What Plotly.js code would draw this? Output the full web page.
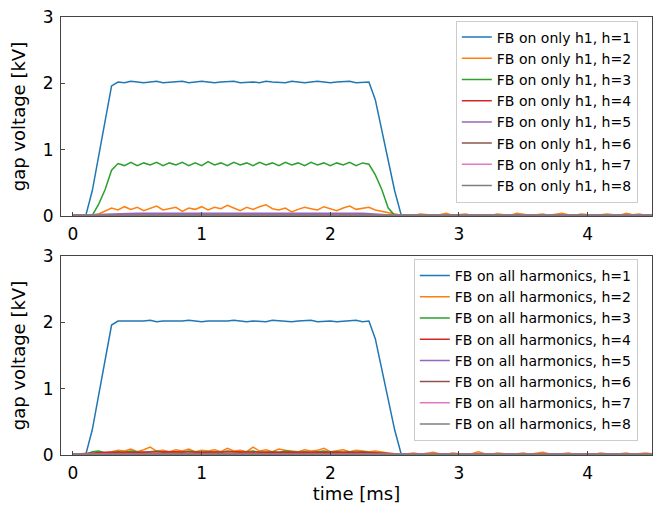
<!DOCTYPE html>
<html>
<head>
<meta charset="utf-8">
<script src="https://cdn.plot.ly/plotly-3.0.1.min.js"></script>
<style>html,body{margin:0;padding:0;background:#fff;}#chart{width:656px;height:506px;}</style>
</head>
<body>
<div id="chart"></div>
<script>
// time grid [ms]
const t = [0.00,0.05,0.10,0.15,0.20,0.25,0.30,0.35,0.40,0.45,
0.50,0.55,0.60,0.65,0.70,0.75,0.80,0.85,0.90,0.95,
1.00,1.05,1.10,1.15,1.20,1.25,1.30,1.35,1.40,1.45,
1.50,1.55,1.60,1.65,1.70,1.75,1.80,1.85,1.90,1.95,
2.00,2.05,2.10,2.15,2.20,2.25,2.30,2.35,2.40,2.45,
2.50,2.55,2.60,2.65,2.70,2.75,2.80,2.85,2.90,2.95,
3.00,3.05,3.10,3.15,3.20,3.25,3.30,3.35,3.40,3.45,
3.50,3.55,3.60,3.65,3.70,3.75,3.80,3.85,3.90,3.95,
4.00,4.05,4.10,4.15,4.20,4.25,4.30,4.35,4.40,4.45,4.50];
// coarse time grid for near-zero harmonics
const tc = [0,0.25,0.5,0.75,1,1.25,1.5,1.75,2,2.25,2.5,2.75,3,3.25,3.5,3.75,4,4.25,4.5];

// ---- top: FB on only h1 ----
const top_h1 = [0.00,0.00,0.01,0.38,0.90,1.43,1.96,2.02,
2.01,2.03,2.02,2.01,2.02,2.03,2.01,2.02,2.02,2.03,
2.01,2.02,2.03,2.02,2.01,2.02,2.02,2.03,2.01,2.02,
2.02,2.01,2.03,2.02,2.02,2.01,2.03,2.02,2.01,2.02,
2.03,2.02,2.01,2.02,2.02,2.03,2.01,2.02,2.02,
1.75,1.30,0.85,0.38,0.02,
0.01,0.01,0.00,0.01,0.01,0.00,0.01,0.01,0.01,0.00,
0.01,0.01,0.00,0.01,0.01,0.01,0.00,0.01,0.01,0.00,
0.01,0.01,0.01,0.00,0.01,0.01,0.00,0.01,0.01,0.01,
0.00,0.01,0.01,0.00,0.01,0.01,0.01,0.00,0.01];
const top_h2 = [0.02,0.01,0.02,0.01,0.03,0.08,0.12,0.09,
0.14,0.10,0.13,0.08,0.12,0.15,0.09,0.11,0.13,0.07,
0.12,0.10,0.14,0.09,0.13,0.11,0.16,0.12,0.08,0.13,
0.10,0.14,0.17,0.11,0.09,0.12,0.06,0.10,0.13,0.11,
0.09,0.14,0.11,0.08,0.12,0.15,0.10,0.12,0.13,0.09,0.07,
0.05,0.02,
0.01,0.02,0.01,0.03,0.02,0.01,0.02,0.04,0.01,0.02,
0.03,0.01,0.02,0.02,0.01,0.03,0.02,0.01,0.04,0.02,
0.01,0.02,0.03,0.01,0.02,0.04,0.02,0.01,0.03,0.02,
0.01,0.02,0.03,0.02,0.01,0.04,0.02,0.03,0.01,0.02];
const top_h3 = [0.01,0.01,0.01,0.01,0.18,0.40,0.69,0.79,
0.76,0.81,0.76,0.80,0.77,0.81,0.76,0.80,0.77,0.81,
0.76,0.80,0.76,0.82,0.77,0.80,0.76,0.81,0.77,0.80,
0.76,0.81,0.77,0.80,0.76,0.81,0.77,0.80,0.76,0.81,
0.77,0.80,0.76,0.80,0.77,0.81,0.76,0.80,
0.78,0.62,0.40,0.12,0.01,
0.01,0.01,0.02,0.01,0.01,0.01,0.02,0.01,0.01,0.01,
0.01,0.02,0.01,0.01,0.01,0.01,0.02,0.01,0.01,0.01,
0.01,0.01,0.02,0.01,0.01,0.01,0.02,0.01,0.01,0.01,
0.01,0.01,0.01,0.02,0.01,0.01,0.01,0.01,0.02,0.01];
const top_h4 = [0.01,0.02,0.02,0.03,0.02,0.02,0.03,0.02,0.03,0.02,0.01,0.01,0.01,0.01,0.01,0.01,0.01,0.01,0.01];
const top_h5 = [0.01,0.03,0.04,0.04,0.04,0.04,0.04,0.04,0.04,0.04,0.01,0.01,0.01,0.01,0.01,0.01,0.01,0.01,0.01];
const top_h6 = [0.01,0.02,0.02,0.02,0.02,0.02,0.02,0.02,0.02,0.02,0.01,0.01,0.01,0.01,0.01,0.01,0.01,0.01,0.01];
const top_h7 = [0.01,0.01,0.01,0.01,0.01,0.01,0.01,0.01,0.01,0.01,0.01,0.01,0.01,0.01,0.01,0.01,0.01,0.01,0.01];
const top_h8 = [0.01,0.01,0.01,0.01,0.01,0.01,0.01,0.01,0.01,0.01,0.01,0.01,0.01,0.01,0.01,0.01,0.01,0.01,0.01];

// ---- bottom: FB on all harmonics ----
const bot_h1 = [0.00,0.00,0.01,0.38,0.90,1.43,1.96,2.02,
2.02,2.01,2.02,2.02,2.03,2.01,2.02,2.02,2.01,2.02,
2.03,2.02,2.01,2.02,2.02,2.01,2.02,2.03,2.02,2.01,
2.02,2.02,2.01,2.03,2.02,2.02,2.01,2.02,2.02,2.03,
2.01,2.02,2.02,2.01,2.02,2.02,2.03,2.01,2.02,
1.75,1.30,0.85,0.38,0.02,
0.01,0.01,0.00,0.01,0.01,0.00,0.01,0.01,0.01,0.00,
0.01,0.01,0.00,0.01,0.01,0.01,0.00,0.01,0.01,0.00,
0.01,0.01,0.01,0.00,0.01,0.01,0.00,0.01,0.01,0.01,
0.00,0.01,0.01,0.00,0.01,0.01,0.01,0.00,0.01];
const bot_h2 = [0.02,0.01,0.02,0.01,0.02,0.03,
0.05,0.07,0.06,0.09,0.05,0.08,0.12,0.06,0.07,0.05,
0.08,0.06,0.09,0.05,0.07,0.06,0.08,0.05,0.10,0.06,
0.07,0.05,0.12,0.06,0.08,0.05,0.09,0.07,0.06,0.05,
0.08,0.06,0.07,0.10,0.05,0.06,0.08,0.05,0.07,0.06,
0.05,0.06,0.04,
0.03,0.02,0.01,0.02,0.03,0.01,0.02,0.04,0.02,0.01,
0.03,0.02,0.01,0.02,0.05,0.02,0.01,0.03,0.02,0.01,
0.02,0.03,0.01,0.02,0.04,0.02,0.01,0.02,0.03,0.01,
0.02,0.02,0.01,0.03,0.02,0.01,0.02,0.03,0.01,0.02,
0.03,0.02];
const bot_h3 = [0.01,0.01,0.01,0.05,0.06,0.03,
0.04,0.05,0.04,0.06,0.05,0.04,0.05,0.06,0.04,0.05,
0.05,0.04,0.06,0.05,0.04,0.05,0.05,0.04,0.06,0.05,
0.04,0.05,0.06,0.04,0.05,0.05,0.04,0.06,0.05,0.04,
0.05,0.04,0.05,0.06,0.04,0.05,0.04,0.05,0.04,0.05,
0.04,0.03,0.03,
0.02,0.01,0.01,0.02,0.01,0.01,0.02,0.01,0.01,0.01,
0.02,0.01,0.01,0.01,0.02,0.01,0.01,0.02,0.01,0.01,
0.01,0.02,0.01,0.01,0.01,0.02,0.01,0.01,0.02,0.01,
0.01,0.01,0.02,0.01,0.01,0.01,0.02,0.01,0.01,0.01,
0.02,0.01];
const bot_h4 = [0.01,0.04,0.04,0.05,0.04,0.05,0.04,0.04,0.05,0.04,0.02,0.01,0.01,0.01,0.01,0.01,0.01,0.01,0.01];
const bot_h5 = [0.01,0.02,0.02,0.02,0.02,0.02,0.02,0.02,0.02,0.02,0.01,0.01,0.01,0.01,0.01,0.01,0.01,0.01,0.01];
const bot_h6 = [0.01,0.02,0.02,0.02,0.02,0.02,0.02,0.02,0.02,0.02,0.01,0.01,0.01,0.01,0.01,0.01,0.01,0.01,0.01];
const bot_h7 = [0.01,0.01,0.01,0.01,0.01,0.01,0.01,0.01,0.01,0.01,0.01,0.01,0.01,0.01,0.01,0.01,0.01,0.01,0.01];
const bot_h8 = [0.01,0.01,0.01,0.01,0.01,0.01,0.01,0.01,0.01,0.01,0.01,0.01,0.01,0.01,0.01,0.01,0.01,0.01,0.01];

const colors = ['#1f77b4','#ff7f0e','#2ca02c','#d62728','#9467bd','#8c564b','#e377c2','#7f7f7f'];
const topSeries = [[t,top_h1],[t,top_h2],[t,top_h3],[tc,top_h4],[tc,top_h5],[tc,top_h6],[tc,top_h7],[tc,top_h8]];
const botSeries = [[t,bot_h1],[t,bot_h2],[t,bot_h3],[tc,bot_h4],[tc,bot_h5],[tc,bot_h6],[tc,bot_h7],[tc,bot_h8]];

const traces = [];
topSeries.forEach((s,i)=>{
  traces.push({x:s[0], y:s[1], type:'scatter', mode:'lines', xaxis:'x', yaxis:'y',
    name:'FB on only h1, h='+(i+1), line:{color:colors[i], width:1.5}, legend:'legend', legendrank:i+1});
});
botSeries.forEach((s,i)=>{
  traces.push({x:s[0], y:s[1], type:'scatter', mode:'lines', xaxis:'x2', yaxis:'y2',
    name:'FB on all harmonics, h='+(i+1), line:{color:colors[i], width:1.5}, legend:'legend2', legendrank:i+1});
});

const font = {family:'DejaVu Sans', color:'#000'};
const tfont = {family:'DejaVu Sans', size:18, color:'#000'};
const axBase = {showline:true, mirror:true, linecolor:'#444', linewidth:1, ticks:'inside', ticklen:4,
  tickcolor:'#444', showgrid:false, zeroline:false, ticklabelstandoff:3,
  tickfont:{family:'DejaVu Sans', size:17, color:'#000'}};
const legBase = {font:{family:'DejaVu Sans', size:14, color:'#000'}, bgcolor:'rgba(255,255,255,0.8)',
  bordercolor:'#cccccc', borderwidth:1, xanchor:'right', yanchor:'top', itemwidth:30, traceorder:'normal'};

const layout = {
  width:656, height:506, margin:{l:61, r:4, t:17, b:51},
  paper_bgcolor:'#fff', plot_bgcolor:'#fff', font:font, showlegend:true,
  xaxis:Object.assign({}, axBase, {domain:[0,1], anchor:'y', range:[-0.093,4.5], tickvals:[0,1,2,3,4]}),
  yaxis:Object.assign({}, axBase, {domain:[0.5457,1], anchor:'x', range:[0,3], tickvals:[0,1,2,3],
    title:{text:'gap voltage [kV]', font:tfont, standoff:12}}),
  xaxis2:Object.assign({}, axBase, {domain:[0,1], anchor:'y2', range:[-0.093,4.5], tickvals:[0,1,2,3,4],
    title:{text:'time [ms]', font:tfont, standoff:4}}),
  yaxis2:Object.assign({}, axBase, {domain:[0,0.4543], anchor:'x2', range:[0,3], tickvals:[0,1,2,3],
    title:{text:'gap voltage [kV]', font:tfont, standoff:12}}),
  legend:Object.assign({}, legBase, {x:0.976, y:0.992}),
  legend2:Object.assign({}, legBase, {x:0.976, y:0.4475})
};

Plotly.newPlot('chart', traces, layout, {displayModeBar:false, staticPlot:true});
</script>
</body>
</html>
